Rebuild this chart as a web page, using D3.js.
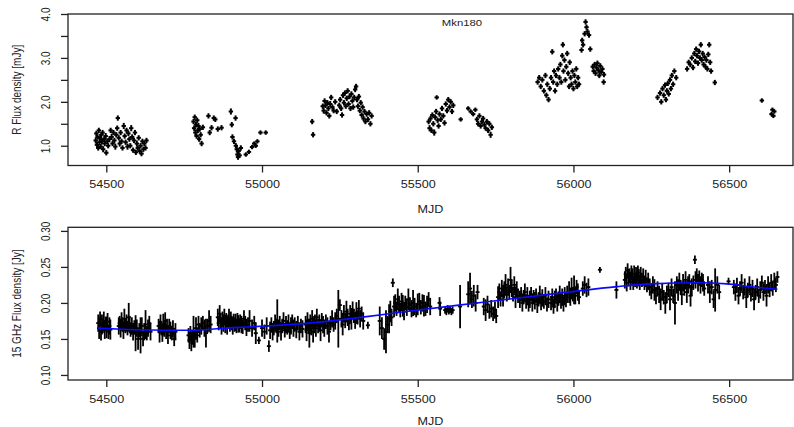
<!DOCTYPE html>
<html>
<head>
<meta charset="utf-8">
<script src="https://cdn.jsdelivr.net/npm/d3@7"></script>
<style>
  html, body { margin: 0; padding: 0; background: #fff; }
  svg { display: block; }
  text { font-family: "Liberation Sans", Arial, sans-serif; fill: #222; }
</style>
</head>
<body>
<div id="chart"></div>
<script>
// ---- data : [MJD, value, error] ----
const rBand = [
  [54466,1.12,.07],[54468,1.28,.06],[54470,1.02,.07],[54472,1.20,.06],[54474,0.95,.06],[54476,1.35,.06],[54478,1.08,.07],
  [54480,1.18,.06],[54482,0.98,.06],[54484,1.25,.06],[54486,1.10,.07],[54488,1.30,.06],[54490,0.92,.07],[54493,1.15,.06],
  [54495,1.05,.06],[54498,1.22,.07],[54500,0.84,.06],[54503,1.10,.06],[54506,1.00,.06],[54510,1.15,.07],
  [54514,1.35,.06],[54517,1.20,.07],[54520,1.05,.06],[54523,1.30,.06],[54526,1.12,.06],[54529,0.98,.07],[54532,1.25,.06],
  [54535,1.40,.06],[54537,1.63,.06],[54540,1.18,.06],[54543,1.05,.07],[54546,1.30,.06],[54549,1.10,.06],[54552,0.95,.06],
  [54556,1.45,.07],[54559,1.22,.06],[54562,1.08,.06],[54565,1.35,.06],[54568,0.98,.07],[54571,1.28,.06],[54574,1.15,.06],
  [54577,1.00,.06],[54580,1.40,.07],[54583,1.20,.06],[54586,0.90,.06],[54589,1.12,.06],[54592,1.30,.06],[54595,0.85,.06],
  [54598,1.05,.07],[54601,0.95,.06],[54604,1.18,.06],[54607,0.88,.06],[54610,1.00,.06],[54613,0.82,.06],[54616,1.10,.06],
  [54619,0.92,.06],[54622,1.05,.06],[54626,0.95,.06],[54629,1.12,.06],
  [54780,1.55,.06],[54782,1.40,.06],[54784,1.65,.06],[54786,1.30,.07],[54788,1.48,.06],[54790,1.22,.06],[54792,1.58,.06],
  [54794,1.35,.06],[54796,1.45,.07],[54798,1.15,.06],[54800,1.38,.06],[54803,1.25,.06],[54806,1.05,.06],[54810,1.42,.06],
  [54828,1.68,.06],[54832,1.30,.06],[54838,1.41,.06],[54845,1.63,.06],[54850,1.60,.06],[54858,1.38,.06],[54870,1.41,.06],
  [54900,1.78,.07],[54903,1.48,.06],[54905,1.20,.06],[54910,1.10,.06],[54915,1.63,.06],[54916,1.00,.06],[54919,0.92,.07],
  [54921,0.80,.06],[54923,0.74,.06],[54925,0.88,.06],[54928,0.78,.06],[54932,0.95,.06],
  [54948,0.80,.05],[54958,0.86,.05],[54968,0.97,.05],[54975,1.05,.05],[54980,1.00,.05],[54985,1.10,.05],[54995,1.30,.05],[55012,1.30,.05],
  [55161,1.55,.06],[55164,1.25,.06],
  [55195,1.90,.06],[55198,1.80,.07],[55201,2.02,.06],[55204,1.92,.06],[55207,1.75,.06],[55210,1.98,.06],[55213,1.85,.06],
  [55216,1.68,.06],[55219,1.95,.07],[55222,2.10,.06],[55226,1.88,.06],[55230,1.80,.06],[55235,2.00,.06],[55240,1.78,.06],
  [55248,1.92,.06],[55251,2.05,.06],[55254,1.85,.06],[55257,1.70,.06],[55260,2.15,.06],[55263,1.98,.06],[55266,2.20,.06],
  [55269,1.90,.06],[55272,2.08,.06],[55275,2.25,.06],[55278,1.95,.06],[55281,2.12,.06],[55284,1.85,.06],[55287,2.18,.06],
  [55290,2.02,.06],[55293,1.88,.06],[55296,2.10,.06],[55299,2.28,.06],[55302,2.35,.06],[55305,2.05,.06],[55308,1.90,.06],
  [55311,2.12,.06],[55314,1.80,.06],[55317,1.98,.06],[55320,1.70,.06],[55323,1.88,.06],[55326,1.62,.06],[55329,1.78,.06],
  [55332,1.55,.06],[55336,1.72,.06],[55340,1.60,.06],[55344,1.75,.06],[55348,1.50,.06],[55352,1.68,.06],
  [55535,1.55,.06],[55538,1.40,.07],[55541,1.62,.06],[55544,1.35,.06],[55547,1.70,.06],[55550,1.50,.06],[55553,1.30,.07],
  [55556,1.65,.06],[55559,1.78,.06],[55561,2.10,.05],[55564,1.58,.06],[55567,1.45,.06],[55570,1.72,.06],[55574,1.60,.06],
  [55578,1.85,.06],[55582,1.68,.06],[55586,1.52,.06],
  [55590,1.95,.06],[55594,1.80,.06],[55598,2.05,.06],[55602,1.88,.06],[55606,2.00,.06],[55610,1.78,.06],[55614,1.92,.06],
  [55638,1.60,.05],[55662,1.85,.05],[55670,1.78,.05],[55678,1.72,.05],[55685,1.82,.05],
  [55690,1.60,.06],[55694,1.50,.06],[55698,1.68,.06],[55702,1.45,.06],[55706,1.55,.06],[55710,1.62,.06],[55714,1.48,.06],
  [55718,1.40,.06],[55722,1.55,.06],[55726,1.35,.06],[55730,1.50,.06],[55734,1.25,.07],[55738,1.42,.06],
  [55885,2.45,.06],[55890,2.55,.06],[55895,2.35,.06],[55900,2.50,.06],[55905,2.25,.06],[55910,2.60,.06],[55913,2.15,.06],
  [55916,2.40,.06],[55920,2.05,.06],[55924,2.30,.06],[55928,2.55,.06],
  [55932,3.14,.06],[55935,2.45,.06],[55938,2.70,.06],[55941,2.25,.06],[55944,2.60,.06],[55948,2.40,.06],[55951,2.75,.06],
  [55955,2.55,.06],[55958,2.85,.06],[55961,2.45,.06],[55964,3.05,.06],[55966,3.30,.06],[55968,2.70,.06],[55971,2.95,.06],
  [55974,2.50,.06],[55977,2.80,.06],[55980,3.10,.06],[55983,2.65,.06],[55986,2.35,.06],[55988,2.90,.06],
  [55991,2.55,.06],[55994,2.40,.06],[55997,2.70,.06],[56000,2.30,.06],[56003,2.60,.06],[56006,2.45,.06],[56009,2.75,.06],
  [56012,2.35,.06],[56015,2.55,.06],[56018,2.40,.06],
  [56026,3.18,.06],[56028,3.40,.06],[56031,3.30,.06],
  [56036,3.55,.06],[56039,3.82,.06],[56042,3.70,.06],[56045,3.60,.06],[56050,3.52,.06],[56054,3.20,.06],
  [56062,2.80,.06],[56065,2.70,.06],[56068,2.85,.06],[56071,2.65,.06],[56074,2.78,.06],[56077,2.88,.06],[56080,2.72,.06],
  [56083,2.60,.06],[56086,2.82,.06],[56089,2.68,.06],[56093,2.75,.06],[56097,2.45,.06],[56098,2.62,.06],
  [56270,2.10,.06],[56278,2.20,.06],[56282,2.00,.06],[56286,2.30,.06],[56290,2.15,.06],[56294,2.38,.06],[56297,2.05,.06],
  [56300,2.25,.06],[56303,2.42,.06],[56306,2.18,.06],[56310,2.50,.06],[56313,2.30,.06],[56316,2.60,.06],[56320,2.40,.06],
  [56324,2.70,.06],[56330,2.55,.06],
  [56365,2.75,.06],[56370,2.90,.06],[56375,2.85,.06],[56380,3.00,.06],[56384,2.78,.06],[56388,3.10,.06],[56391,2.92,.06],
  [56394,3.20,.06],[56397,3.05,.06],[56400,2.88,.06],[56403,3.15,.06],[56406,3.00,.06],[56409,3.30,.06],[56412,2.95,.06],
  [56415,3.10,.06],[56418,2.85,.06],[56421,3.02,.06],[56424,2.80,.06],[56427,2.95,.06],[56430,2.75,.06],[56433,3.08,.06],
  [56436,3.30,.06],[56439,2.90,.06],[56442,2.70,.06],[56454,2.44,.06],
  [56605,2.03,.05],[56636,1.72,.05],[56639,1.82,.05],[56642,1.68,.05],[56645,1.78,.05]
];

const radio15 = [
  [54474,0.172,.012],[54477,0.165,.015],[54480,0.178,.010],[54483,0.160,.012],[54486,0.170,.014],[54489,0.168,.010],
  [54492,0.175,.013],[54495,0.162,.012],[54498,0.171,.010],[54501,0.166,.015],[54504,0.174,.012],[54507,0.160,.010],
  [54510,0.168,.012],[54513,0.163,.014],
  [54540,0.168,.012],[54543,0.172,.010],[54546,0.165,.013],[54549,0.175,.012],[54552,0.170,.010],[54555,0.162,.012],
  [54558,0.178,.014],[54561,0.168,.010],[54565,0.172,.012],[54568,0.165,.010],[54572,0.180,.020],[54575,0.170,.012],
  [54578,0.163,.010],[54582,0.168,.012],[54586,0.160,.012],[54590,0.166,.010],
  [54594,0.158,.025],[54598,0.165,.012],[54602,0.150,.015],[54606,0.162,.010],[54610,0.155,.025],[54614,0.168,.012],
  [54618,0.150,.010],[54622,0.160,.012],[54626,0.170,.020],[54630,0.158,.010],[54634,0.165,.012],[54638,0.172,.010],
  [54642,0.160,.012],
  [54668,0.168,.010],[54671,0.160,.015],[54674,0.172,.012],[54677,0.165,.010],[54680,0.158,.012],[54683,0.170,.015],
  [54686,0.163,.010],[54689,0.175,.012],[54692,0.160,.010],[54695,0.166,.012],[54698,0.155,.012],[54702,0.168,.010],
  [54706,0.162,.012],[54710,0.158,.010],[54714,0.164,.012],[54718,0.150,.010],[54722,0.160,.012],
  [54764,0.155,.010],[54767,0.148,.012],[54770,0.158,.010],[54773,0.145,.012],[54776,0.152,.010],[54780,0.160,.022],
  [54784,0.150,.012],[54788,0.165,.015],[54792,0.155,.010],[54796,0.170,.012],[54800,0.162,.010],[54805,0.168,.012],
  [54810,0.172,.010],[54815,0.165,.012],[54820,0.158,.020],[54825,0.168,.010],[54830,0.175,.015],[54835,0.170,.012],
  [54858,0.180,.012],[54861,0.172,.010],[54864,0.185,.012],[54867,0.175,.010],[54870,0.168,.012],[54873,0.178,.010],
  [54876,0.172,.012],[54879,0.182,.010],[54882,0.170,.012],[54885,0.176,.010],[54888,0.168,.012],[54891,0.174,.010],
  [54894,0.180,.012],[54897,0.170,.010],[54900,0.176,.012],[54903,0.172,.010],[54906,0.168,.012],[54909,0.175,.010],
  [54912,0.170,.010],[54915,0.173,.012],[54918,0.168,.010],[54921,0.176,.010],[54924,0.171,.012],[54927,0.169,.010],
  [54930,0.174,.010],[54934,0.170,.012],[54938,0.167,.010],[54942,0.178,.012],[54946,0.172,.010],[54950,0.166,.012],
  [54955,0.170,.010],[54960,0.175,.015],
  [54968,0.165,.012],[54975,0.172,.010],[54980,0.158,.015],[54990,0.148,.005],[55000,0.165,.012],[55008,0.160,.010],
  [55015,0.168,.012],[55022,0.140,.008],[55026,0.162,.012],[55030,0.170,.010],[55034,0.160,.012],[55038,0.165,.010],
  [55042,0.172,.012],[55046,0.168,.010],[55049,0.175,.030],[55053,0.165,.012],[55057,0.172,.010],[55061,0.160,.012],
  [55065,0.168,.010],[55069,0.175,.012],[55073,0.162,.010],[55077,0.170,.012],[55081,0.166,.010],[55085,0.172,.012],
  [55089,0.160,.010],[55093,0.168,.012],[55097,0.174,.010],[55101,0.165,.012],[55105,0.170,.010],[55110,0.163,.012],
  [55115,0.172,.010],[55120,0.160,.012],[55125,0.168,.010],[55130,0.164,.012],
  [55140,0.170,.012],[55143,0.162,.015],[55146,0.175,.012],[55149,0.168,.010],[55152,0.158,.020],[55155,0.172,.012],
  [55158,0.165,.010],[55161,0.178,.012],[55164,0.160,.015],[55167,0.170,.012],[55170,0.174,.010],[55173,0.165,.012],
  [55176,0.180,.012],[55180,0.168,.010],[55184,0.172,.012],[55188,0.162,.015],[55192,0.176,.010],[55196,0.170,.012],
  [55200,0.165,.012],[55205,0.174,.010],[55210,0.168,.012],[55215,0.160,.015],[55220,0.172,.010],[55225,0.178,.012],
  [55230,0.170,.010],[55235,0.175,.012],[55240,0.182,.010],
  [55245,0.178,.040],[55250,0.197,.008],[55255,0.178,.012],[55259,0.170,.015],[55263,0.185,.012],[55267,0.175,.010],
  [55271,0.188,.015],[55275,0.180,.012],[55279,0.172,.010],[55283,0.185,.012],[55287,0.178,.015],[55291,0.190,.012],
  [55295,0.182,.010],[55299,0.176,.012],[55303,0.186,.015],[55307,0.180,.010],[55311,0.192,.012],[55315,0.178,.012],
  [55320,0.185,.010],[55325,0.175,.012],[55340,0.169,.005],
  [55378,0.175,.020],[55385,0.165,.015],[55392,0.150,.015],[55398,0.160,.030],[55403,0.170,.012],[55408,0.178,.020],
  [55412,0.188,.015],[55416,0.180,.012],[55420,0.228,.006],
  [55424,0.195,.015],[55428,0.200,.012],[55432,0.192,.010],[55436,0.205,.015],[55440,0.198,.012],[55444,0.190,.010],
  [55448,0.202,.012],[55452,0.196,.015],[55456,0.188,.012],[55460,0.200,.010],[55465,0.194,.012],[55470,0.205,.015],
  [55475,0.198,.010],[55480,0.192,.012],[55485,0.200,.018],[55490,0.195,.012],[55495,0.190,.010],[55500,0.198,.015],
  [55505,0.202,.012],[55510,0.194,.010],[55515,0.200,.012],[55520,0.196,.015],[55525,0.192,.010],[55530,0.198,.012],
  [55535,0.205,.010],[55540,0.195,.012],
  [55570,0.200,.008],[55572,0.192,.010],[55588,0.190,.005],[55592,0.188,.005],[55596,0.192,.005],[55600,0.189,.005],
  [55604,0.191,.005],[55608,0.188,.005],[55612,0.190,.005],[55636,0.195,.030],[55662,0.212,.018],[55668,0.220,.022],
  [55674,0.205,.012],[55680,0.210,.015],[55686,0.200,.012],[55692,0.215,.010],[55712,0.195,.012],[55718,0.190,.015],
  [55724,0.198,.012],[55730,0.188,.010],[55736,0.192,.012],[55742,0.185,.010],[55748,0.190,.012],[55752,0.182,.010],
  [55758,0.208,.015],[55762,0.215,.012],[55766,0.205,.010],[55770,0.220,.012],[55774,0.210,.015],[55778,0.218,.012],
  [55782,0.225,.015],[55786,0.212,.010],[55790,0.222,.012],[55794,0.215,.010],[55798,0.232,.018],[55802,0.220,.012],
  [55806,0.212,.010],[55810,0.225,.012],[55814,0.208,.015],[55818,0.218,.012],[55822,0.210,.010],
  [55828,0.205,.012],[55832,0.212,.010],[55836,0.200,.012],[55840,0.208,.010],[55844,0.215,.012],[55848,0.202,.010],
  [55852,0.210,.012],[55856,0.198,.010],[55860,0.205,.012],[55864,0.212,.010],[55868,0.200,.012],[55872,0.208,.010],
  [55876,0.203,.012],[55880,0.210,.010],[55884,0.198,.012],[55888,0.205,.010],[55892,0.212,.012],[55896,0.200,.010],
  [55900,0.207,.012],[55905,0.202,.010],[55910,0.210,.012],[55915,0.198,.010],[55920,0.205,.012],
  [55928,0.200,.010],[55932,0.208,.012],[55936,0.195,.010],[55940,0.205,.012],[55944,0.210,.010],[55948,0.200,.012],
  [55952,0.206,.010],[55956,0.212,.012],[55960,0.202,.010],[55964,0.208,.012],[55968,0.198,.010],[55972,0.210,.012],
  [55976,0.204,.010],[55980,0.212,.012],[55986,0.215,.015],[55990,0.208,.012],[55994,0.220,.015],[55998,0.212,.010],
  [56002,0.218,.020],[56006,0.210,.012],[56010,0.222,.010],[56014,0.215,.012],[56018,0.208,.010],[56030,0.220,.010],
  [56036,0.225,.012],[56042,0.218,.010],[56048,0.222,.012],
  [56085,0.246,.004],[56138,0.218,.012],
  [56165,0.232,.012],[56168,0.240,.010],[56171,0.228,.012],[56174,0.245,.010],[56177,0.235,.012],[56180,0.238,.010],
  [56183,0.230,.012],[56186,0.242,.010],[56189,0.236,.012],[56192,0.228,.010],[56195,0.240,.012],[56198,0.232,.010],
  [56201,0.238,.012],[56204,0.230,.010],[56207,0.242,.010],[56210,0.235,.012],[56213,0.228,.010],[56216,0.238,.012],
  [56220,0.232,.010],[56224,0.236,.012],[56228,0.228,.010],[56232,0.234,.012],[56236,0.225,.010],[56240,0.230,.012],
  [56245,0.222,.012],[56250,0.215,.010],[56255,0.225,.012],[56260,0.218,.015],[56265,0.210,.012],[56270,0.220,.010],
  [56275,0.212,.012],[56280,0.205,.015],[56285,0.215,.012],[56290,0.208,.010],[56295,0.200,.015],[56300,0.212,.012],
  [56305,0.218,.010],[56310,0.205,.015],[56315,0.222,.012],[56320,0.210,.010],[56326,0.200,.030],
  [56332,0.225,.012],[56336,0.218,.015],[56340,0.230,.012],[56344,0.222,.010],[56348,0.212,.015],[56352,0.228,.012],
  [56356,0.220,.010],[56360,0.232,.012],[56364,0.215,.015],[56368,0.225,.012],[56372,0.230,.010],[56376,0.210,.015],
  [56380,0.222,.012],[56385,0.228,.010],[56390,0.260,.006],
  [56392,0.232,.012],[56396,0.238,.010],[56400,0.228,.012],[56404,0.235,.010],[56408,0.225,.012],[56412,0.232,.010],
  [56416,0.228,.012],[56420,0.220,.010],
  [56432,0.225,.012],[56438,0.215,.015],[56444,0.222,.010],[56450,0.205,.012],[56455,0.218,.030],[56462,0.225,.012],
  [56468,0.215,.010],
  [56498,0.230,.005],[56515,0.222,.010],[56520,0.215,.012],[56525,0.225,.010],[56530,0.210,.012],[56535,0.220,.010],
  [56540,0.228,.012],[56545,0.215,.010],[56550,0.222,.012],[56555,0.208,.015],[56560,0.218,.010],[56565,0.225,.012],
  [56570,0.212,.010],[56575,0.220,.012],[56580,0.205,.015],[56585,0.215,.010],[56590,0.222,.012],[56595,0.210,.010],
  [56600,0.218,.012],[56605,0.228,.010],[56610,0.215,.012],[56615,0.222,.010],[56620,0.210,.015],[56625,0.225,.012],
  [56630,0.218,.010],[56635,0.228,.012],[56640,0.220,.010],[56645,0.230,.012],[56650,0.225,.010],[56655,0.236,.008]
];

// smooth trend over the radio light curve
const radioTrend = [
  [54473,0.165],[54550,0.1635],[54640,0.1625],[54760,0.162],[54908,0.1657],[55015,0.168],[55176,0.173],
  [55336,0.181],[55443,0.187],[55710,0.201],[55980,0.215],[56140,0.2227],[56247,0.2264],[56400,0.228],
  [56493,0.2264],[56567,0.2227],[56655,0.219]
];

const xTicks   = [54500, 55000, 55500, 56000, 56500];
const rTicks   = [1.0, 1.5, 2.0, 2.5, 3.0, 3.5, 4.0];
const radTicks = [0.10, 0.15, 0.20, 0.25, 0.30];

// ---- layout ----
const W = 794, H = 427;
const left = 68, right = 793;
const sx = 1.26;   // glyphs in the reference are slightly wide

const svg = d3.select("#chart").append("svg").attr("width", W).attr("height", H);

const x = d3.scaleLinear().domain([54377, 56705]).range([left, right]);

function panel(cfg) {
  const { top, bottom, yDomain, yTicks, yFmt, data, yTitle, dash, sw } = cfg;
  const y = d3.scaleLinear().domain(yDomain).range([bottom, top]);
  const g = svg.append("g");

  // error bars + point dashes
  const pts = g.append("g").attr("stroke", "#000").attr("stroke-width", sw);
  pts.selectAll("line.err").data(data).enter().append("line")
    .attr("class", "err")
    .attr("x1", d => x(d[0])).attr("x2", d => x(d[0]))
    .attr("y1", d => y(d[1] - d[2])).attr("y2", d => y(d[1] + d[2]));
  pts.selectAll("line.pt").data(data).enter().append("line")
    .attr("class", "pt")
    .attr("x1", d => x(d[0]) - dash).attr("x2", d => x(d[0]) + dash)
    .attr("y1", d => y(d[1])).attr("y2", d => y(d[1]));

  // frame
  g.append("rect").attr("x", left).attr("y", top)
    .attr("width", right - left).attr("height", bottom - top)
    .attr("fill", "none").attr("stroke", "#222").attr("stroke-width", 1.3);

  // x axis
  const xa = g.append("g").attr("transform", `translate(0,${bottom})`)
    .call(d3.axisBottom(x).tickValues(xTicks).tickSize(7).tickFormat(d3.format("d")));
  xa.select(".domain").remove();
  xa.selectAll("line").attr("stroke", "#222").attr("stroke-width", 1.3);
  xa.selectAll("text").attr("y", 23).attr("dy", 0)
    .attr("transform", `scale(${sx},1)`)
    .style("font-size", "10px").style("fill", "#222");

  // y axis
  const ya = g.append("g").attr("transform", `translate(${left},0)`)
    .call(d3.axisLeft(y).tickValues(yTicks).tickSize(7).tickFormat(yFmt));
  ya.select(".domain").remove();
  ya.selectAll("line").attr("stroke", "#222").attr("stroke-width", 1.3);
  ya.selectAll("text").attr("x", 0).attr("dy", "0.36em")
    .attr("text-anchor", "middle")
    .attr("transform", `translate(-22.5,0) scale(${sx},1) rotate(-90)`)
    .style("font-size", "10px").style("fill", "#222");

  // axis titles
  svg.append("text")
    .attr("transform", `translate(${(left + right) / 2},${Math.min(bottom + 47, 424.5)}) scale(${sx},1)`)
    .attr("text-anchor", "middle").style("font-size", "10px").text("MJD");
  svg.append("text")
    .attr("transform", `translate(20.5,${(top + bottom) / 2}) scale(${sx},1) rotate(-90)`)
    .attr("text-anchor", "middle").style("font-size", "10px").text(yTitle);

  return { g, y };
}

panel({
  top: 14, bottom: 165.5, yDomain: [0.55, 4.0], yTicks: rTicks,
  yFmt: d => Number.isInteger(d) ? d.toFixed(1) : "",
  data: rBand, yTitle: "R Flux density [mJy]", dash: 2.2, sw: 2
});

const p2 = panel({
  top: 227.3, bottom: 380, yDomain: [0.093, 0.305], yTicks: radTicks,
  yFmt: d3.format(".2f"),
  data: radio15, yTitle: "15 GHz Flux density [Jy]", dash: 2, sw: 1.8
});

p2.g.append("path").datum(radioTrend)
  .attr("fill", "none").attr("stroke", "#0a0aff").attr("stroke-width", 1.6)
  .attr("d", d3.line().x(d => x(d[0])).y(d => p2.y(d[1])).curve(d3.curveMonotoneX));

// title
svg.append("text")
  .attr("transform", `translate(462,25.5) scale(${sx},1)`)
  .attr("text-anchor", "middle").style("font-size", "9px").text("Mkn180");
</script>
</body>
</html>
